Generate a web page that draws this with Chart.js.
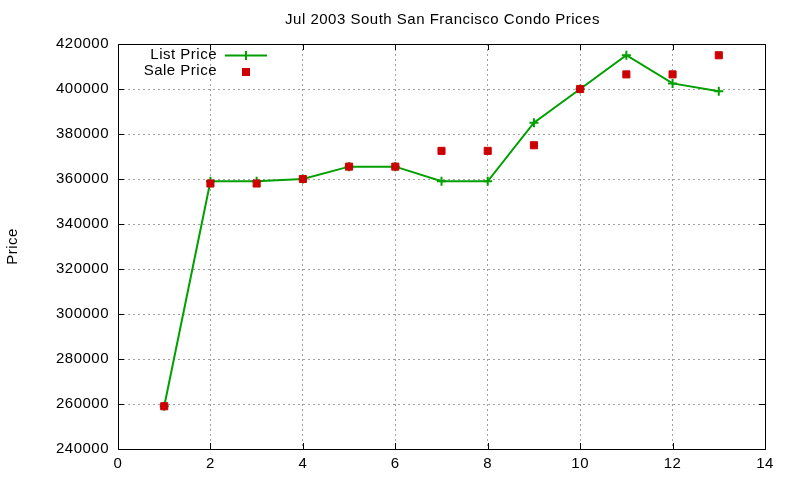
<!DOCTYPE html>
<html>
<head>
<meta charset="utf-8">
<script src="https://cdn.jsdelivr.net/npm/chart.js@4"></script>
<style>
  html, body { margin: 0; padding: 0; background: #fff; }
  #wrap { width: 800px; height: 480px; }
</style>
</head>
<body>
<div id="wrap"><canvas id="prices" width="800" height="480"></canvas></div>
<script>
// month index (Jul 2003 listing number) and prices
const months = [1, 2, 3, 4, 5, 6, 7, 8, 9, 10, 11, 12, 13];
const listPrices = [259000, 359000, 359000, 360000, 365500, 365500, 359000, 359000, 385000, 400000, 415000, 402500, 399000];
const salePrices = [259000, 358000, 358000, 360000, 365500, 365500, 372500, 372500, 375000, 400000, 406500, 406500, 415000];
const seriesNames = ['List Price', 'Sale Price'];
const chartTitle = 'Jul 2003 South San Francisco Condo Prices';
const yTitle = 'Price';

const FONT = '"Liberation Sans", Arial, sans-serif';
const FSIZE = 15;
const GREEN = '#00a000', RED = '#cc0000';

function toPoints(ys) {
  return months.map((m, i) => ({ x: m, y: ys[i] }));
}

// gnuplot-ish frame, inward ticks, title, y label and legend
const gnuFrame = {
  id: 'gnuFrame',
  beforeDraw(chart) {
    chart.ctx.letterSpacing = '0.5px';
  },
  afterDraw(chart) {
    const ctx = chart.ctx, a = chart.chartArea;
    const xs = chart.scales.x, ys = chart.scales.y;
    ctx.save();
    ctx.strokeStyle = '#000';
    ctx.lineWidth = 1;
    ctx.beginPath();
    xs.ticks.forEach(t => {
      const px = Math.round(xs.getPixelForValue(t.value)) + 0.5;
      ctx.moveTo(px, a.bottom); ctx.lineTo(px, a.bottom - 6);
      ctx.moveTo(px, a.top); ctx.lineTo(px, a.top + 6);
    });
    ys.ticks.forEach(t => {
      const py = Math.round(ys.getPixelForValue(t.value)) + 0.5;
      ctx.moveTo(a.left, py); ctx.lineTo(a.left + 6, py);
      ctx.moveTo(a.right, py); ctx.lineTo(a.right - 6, py);
    });
    ctx.stroke();
    ctx.strokeRect(Math.round(a.left) + 0.5, Math.round(a.top) + 0.5,
      Math.round(a.right - a.left), Math.round(a.bottom - a.top));

    ctx.fillStyle = '#000';
    ctx.font = FSIZE + 'px ' + FONT;
    ctx.textAlign = 'center';
    ctx.textBaseline = 'middle';
    ctx.fillText(chartTitle, (a.left + a.right) / 2 + 1, 20);

    ctx.save();
    ctx.translate(13, (a.top + a.bottom) / 2);
    ctx.rotate(-Math.PI / 2);
    ctx.fillText(yTitle, 0, 0);
    ctx.restore();

    // legend
    ctx.textAlign = 'right';
    ctx.fillText(seriesNames[0], 217, 55);
    ctx.fillText(seriesNames[1], 217, 71);
    ctx.strokeStyle = GREEN;
    ctx.lineWidth = 2;
    ctx.beginPath();
    ctx.moveTo(225, 55.5); ctx.lineTo(267, 55.5);
    ctx.moveTo(246, 51); ctx.lineTo(246, 60);
    ctx.stroke();
    ctx.fillStyle = RED;
    ctx.fillRect(242, 68, 8, 8);
    ctx.restore();
  }
};

const ctx = document.getElementById('prices').getContext('2d');
new Chart(ctx, {
  type: 'scatter',
  data: {
    datasets: [
      {
        label: seriesNames[0],
        data: toPoints(listPrices),
        showLine: true,
        borderColor: GREEN,
        backgroundColor: GREEN,
        borderWidth: 2,
        pointStyle: 'cross',
        pointRadius: 4.5,
        pointBorderWidth: 2,
        order: 2
      },
      {
        label: seriesNames[1],
        data: toPoints(salePrices),
        showLine: false,
        borderColor: RED,
        backgroundColor: RED,
        pointStyle: 'rect',
        pointRadius: 5,
        pointBorderWidth: 1,
        order: 1
      }
    ]
  },
  options: {
    responsive: false,
    animation: false,
    layout: { padding: { top: 44, right: 35, left: 0, bottom: 0 } },
    plugins: {
      legend: { display: false },
      title: { display: false },
      tooltip: { enabled: false }
    },
    scales: {
      x: {
        type: 'linear',
        min: 0, max: 14,
        afterFit: s => { s.height = 31; },
        ticks: { stepSize: 2, color: '#000', padding: 6, font: { family: FONT, size: FSIZE } },
        grid: { color: '#a0a0a0', lineWidth: 1, drawTicks: false },
        border: { display: false, dash: [2, 3] }
      },
      y: {
        min: 240000, max: 420000,
        afterFit: s => { s.width = 118; },
        ticks: {
          stepSize: 20000, color: '#000', padding: 9,
          font: { family: FONT, size: FSIZE },
          callback: v => String(v)
        },
        grid: { color: '#a0a0a0', lineWidth: 1, drawTicks: false },
        border: { display: false, dash: [2, 3] }
      }
    }
  },
  plugins: [gnuFrame]
});
</script>
</body>
</html>
